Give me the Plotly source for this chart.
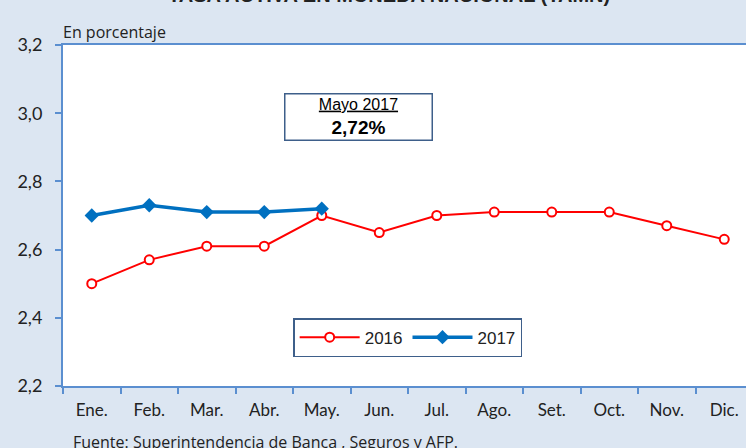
import plotly.graph_objects as go

months = ["Ene.", "Feb.", "Mar.", "Abr.", "May.", "Jun.", "Jul.", "Ago.", "Set.", "Oct.", "Nov.", "Dic."]
tamn_2016 = [2.50, 2.57, 2.61, 2.61, 2.70, 2.65, 2.70, 2.71, 2.71, 2.71, 2.67, 2.63]
tamn_2017 = [2.70, 2.73, 2.71, 2.71, 2.72]
y_ticks = [2.2, 2.4, 2.6, 2.8, 3.0, 3.2]

axis_blue = "#5b8fd0"
bg = "#dce6f2"

fig = go.Figure()
fig.add_trace(go.Scatter(
    x=months, y=tamn_2016, name="2016", mode="lines+markers",
    line=dict(color="#ff0000", width=2),
    marker=dict(symbol="circle", size=9, color="white", line=dict(color="#ff0000", width=2)),
))
fig.add_trace(go.Scatter(
    x=months[:len(tamn_2017)], y=tamn_2017, name="2017", mode="lines+markers",
    line=dict(color="#0070c0", width=3.5),
    marker=dict(symbol="diamond", size=11, color="#0070c0"),
))

fig.update_layout(
    width=746, height=448,
    margin=dict(l=63, r=0, t=45, b=62),
    paper_bgcolor=bg, plot_bgcolor="white",
    separators=",.",
    showlegend=True,
    legend=dict(
        orientation="h", x=0.337, y=0.199, xanchor="left", yanchor="top",
        bgcolor="white", bordercolor="#3e5f8a", borderwidth=1.5,
        font=dict(family="Liberation Sans", size=17, color="#222"),
        itemwidth=60, tracegroupgap=0,
    ),
    font=dict(family="Lato", color="#222"),
)
fig.update_xaxes(
    categoryorder="array", categoryarray=months,
    range=[-0.5, 11.378], automargin=False,
    showline=True, linecolor=axis_blue, linewidth=2, mirror=True,
    ticks="outside", tickson="boundaries", ticklen=6, tickcolor=axis_blue, tickwidth=1.5,
    ticklabelstandoff=8,
    tickfont=dict(family="Lato", size=17, color="#222"),
    showgrid=False, zeroline=False,
)
fig.update_yaxes(
    range=[2.2, 3.2], tickvals=y_ticks, tickformat=".1f", automargin=False,
    showline=True, linecolor=axis_blue, linewidth=2,
    ticks="outside", ticklen=6, tickcolor=axis_blue, tickwidth=1.5,
    ticklabelstandoff=9,
    tickfont=dict(family="Lato", size=18, color="#222"),
    showgrid=False, zeroline=False,
)

fig.add_annotation(
    xref="paper", yref="paper", x=0.432, y=0.790, xanchor="center", yanchor="middle",
    text="<span style='font-size:16px'><u>Mayo 2017</u></span><br><b>2,72%</b>",
    font=dict(family="Liberation Sans", size=19, color="#000"),
    showarrow=False, bgcolor="white", bordercolor="#3e5f8a", borderwidth=1.5,
    width=144, height=43, align="center",
)
fig.add_annotation(
    xref="paper", yref="paper", x=0.0, y=1.0, xanchor="left", yanchor="bottom",
    text="En porcentaje", showarrow=False, xshift=-2, yshift=0,
    font=dict(family="Open Sans", size=16, color="#222"),
)
fig.add_annotation(
    xref="paper", yref="paper", x=0.0, y=-0.125, xanchor="left", yanchor="top",
    text="Fuente: Superintendencia de Banca , Seguros y AFP.", showarrow=False, xshift=8,
    font=dict(family="Open Sans", size=16, color="#222"),
)
fig.add_annotation(
    xref="paper", yref="paper", x=0.478, y=1.118, xanchor="center", yanchor="bottom",
    text="<b>TASA ACTIVA EN MONEDA NACIONAL (TAMN)</b>", showarrow=False, yshift=-3,
    font=dict(family="Liberation Sans", size=20, color="#222"),
)

fig.write_html("out.html", config={"displayModeBar": False},
               post_script="document.body.style.margin='0';")
